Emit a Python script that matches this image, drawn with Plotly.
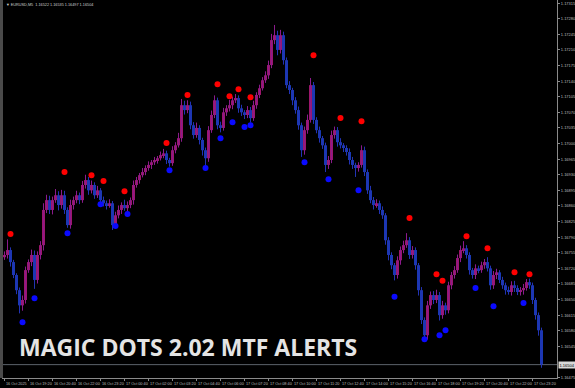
import plotly.graph_objects as go

# ---- data (10-minute bars, EURUSD) ----
first_open = 1.16745
closes = [
    1.16750, 1.16761, 1.16734, 1.16705, 1.16671, 1.16637, 1.16649, 1.16716, 1.16734, 1.16750,
    1.16694, 1.16750, 1.16772, 1.16851, 1.16873, 1.16851, 1.16873, 1.16884, 1.16862, 1.16884,
    1.16851, 1.16817, 1.16862, 1.16873, 1.16884, 1.16873, 1.16907, 1.16918, 1.16895, 1.16907,
    1.16884, 1.16895, 1.16873, 1.16866, 1.16862, 1.16866, 1.16817, 1.16839, 1.16851, 1.16862,
    1.16855, 1.16862, 1.16873, 1.16907, 1.16918, 1.16929, 1.16936, 1.16945, 1.16952, 1.16958,
    1.16963, 1.16967, 1.16974, 1.16978, 1.16963, 1.16956, 1.16985, 1.16996, 1.17012, 1.17086,
    1.17075, 1.17086, 1.17041, 1.17019, 1.17035, 1.17008, 1.16985, 1.16967, 1.17030, 1.17064,
    1.17097, 1.17041, 1.17035, 1.17070, 1.17079, 1.17086, 1.17097, 1.17102, 1.17079, 1.17070,
    1.17064, 1.17075, 1.17057, 1.17086, 1.17109, 1.17124, 1.17142, 1.17153, 1.17176, 1.17232,
    1.17243, 1.17210, 1.17243, 1.17187, 1.17131, 1.17120, 1.17097, 1.17075, 1.17041, 1.16985,
    1.17030, 1.17053, 1.17131, 1.17053, 1.17030, 1.17012, 1.16996, 1.16952, 1.16963, 1.17019,
    1.17030, 1.17003, 1.16996, 1.16990, 1.16981, 1.16963, 1.16952, 1.16945, 1.16952, 1.16985,
    1.16936, 1.16895, 1.16873, 1.16862, 1.16866, 1.16851, 1.16839, 1.16783, 1.16750, 1.16727,
    1.16705, 1.16738, 1.16761, 1.16772, 1.16783, 1.16750, 1.16761, 1.16727, 1.16671, 1.16604,
    1.16570, 1.16637, 1.16660, 1.16649, 1.16660, 1.16615, 1.16637, 1.16626, 1.16682, 1.16705,
    1.16716, 1.16743, 1.16761, 1.16765, 1.16750, 1.16716, 1.16705, 1.16720, 1.16716, 1.16727,
    1.16734, 1.16720, 1.16682, 1.16705, 1.16711, 1.16694, 1.16682, 1.16671, 1.16667, 1.16682,
    1.16676, 1.16667, 1.16671, 1.16676, 1.16689, 1.16682, 1.16649, 1.16615, 1.16581, 1.16504,
]
# wick lengths in points (0.00001) above max(open, close) and below min(open, close)
upper_wick_pts = [
    8, 24, 6, 5, 4, 6, 10, 8, 6, 12,
    10, 8, 9, 15, 12, 10, 8, 14, 9, 12,
    10, 6, 12, 8, 10, 6, 9, 12, 7, 10,
    6, 10, 5, 8, 6, 9, 5, 8, 10, 6,
    12, 8, 6, 10, 7, 5, 9, 6, 8, 5,
    7, 5, 8, 10, 6, 5, 9, 7, 12, 14,
    10, 11, 8, 7, 12, 6, 5, 6, 9, 10,
    11, 6, 8, 10, 7, 12, 8, 9, 6, 8,
    5, 9, 7, 10, 6, 8, 7, 9, 10, 14,
    23, 10, 12, 8, 6, 9, 5, 7, 8, 6,
    8, 12, 16, 7, 6, 8, 5, 6, 9, 10,
    8, 7, 9, 5, 6, 8, 7, 5, 6, 11,
    8, 6, 10, 7, 9, 6, 8, 5, 7, 6,
    5, 9, 8, 10, 16, 7, 9, 6, 5, 7,
    6, 10, 8, 9, 12, 7, 10, 6, 8, 7,
    9, 8, 10, 16, 7, 6, 5, 9, 6, 8,
    7, 11, 6, 9, 8, 5, 7, 6, 8, 9,
    10, 6, 7, 9, 7, 8, 6, 5, 6, 6,
]
lower_wick_pts = [
    6, 8, 10, 7, 9, 18, 12, 8, 6, 9,
    20, 8, 10, 12, 7, 9, 10, 6, 12, 8,
    9, 6, 8, 10, 7, 9, 6, 8, 10, 7,
    8, 6, 9, 7, 10, 6, 11, 8, 7, 9,
    6, 8, 7, 10, 6, 8, 5, 7, 6, 9,
    6, 8, 5, 7, 9, 8, 6, 7, 5, 8,
    10, 7, 9, 8, 6, 10, 12, 17, 8, 6,
    7, 9, 10, 6, 8, 7, 9, 6, 10, 8,
    9, 7, 10, 6, 8, 7, 5, 6, 8, 7,
    9, 12, 8, 10, 7, 9, 11, 8, 10, 15,
    10, 8, 6, 9, 7, 10, 8, 16, 9, 7,
    8, 10, 7, 9, 8, 10, 9, 20, 8, 6,
    9, 8, 7, 10, 6, 9, 8, 10, 12, 9,
    12, 8, 10, 7, 6, 9, 8, 10, 12, 9,
    7, 10, 8, 9, 7, 12, 8, 10, 7, 9,
    8, 6, 9, 7, 8, 10, 8, 9, 7, 6,
    8, 7, 10, 8, 9, 7, 8, 10, 6, 8,
    9, 7, 8, 10, 6, 8, 9, 10, 12, 7,
]
# Magic Dots signals (bar index, price)
red_dot_bars = [2, 20, 29, 33, 40, 54, 61, 71, 75, 78, 82, 103, 112, 119, 135, 144, 146, 154, 161, 170, 175]
red_dot_prices = [1.16797, 1.16936, 1.16929, 1.16916, 1.16893, 1.17001, 1.17109, 1.17133, 1.17106, 1.17122,
                  1.17104, 1.17198, 1.17057, 1.17050, 1.16833, 1.16707, 1.16692, 1.16792, 1.16765, 1.16711, 1.16707]
blue_dot_bars = [6, 10, 21, 32, 37, 41, 55, 67, 72, 76, 80, 82, 100, 108, 118, 130, 140, 145, 147, 157, 163, 173]
blue_dot_prices = [1.16599, 1.16653, 1.16799, 1.16864, 1.16815, 1.16842, 1.16940, 1.16945, 1.17012, 1.17048,
                   1.17037, 1.17041, 1.16958, 1.16920, 1.16895, 1.16656, 1.16561, 1.16570, 1.16581, 1.16676,
                   1.16635, 1.16642]
last_price = 1.16504
header_text = "EURUSD,M5  1.16522 1.16535 1.16497 1.16504"
title_text = "MAGIC DOTS 2.02 MTF ALERTS"
price_ticks = [1.16475, 1.16545, 1.16580, 1.16615, 1.16650, 1.16685, 1.16720, 1.16755, 1.16790,
               1.16825, 1.16860, 1.16895, 1.16930, 1.16965, 1.17000, 1.17035, 1.17070, 1.17105,
               1.17140, 1.17175, 1.17210, 1.17245, 1.17280, 1.17315]
time_tick_bars = list(range(0, 177, 8))
time_tick_labels = ["16 Oct 2025", "16 Oct 19:20", "16 Oct 20:40", "16 Oct 22:00", "16 Oct 23:20",
                    "17 Oct 00:40", "17 Oct 02:00", "17 Oct 03:20", "17 Oct 04:40", "17 Oct 06:00",
                    "17 Oct 07:20", "17 Oct 08:40", "17 Oct 10:00", "17 Oct 11:20", "17 Oct 12:40",
                    "17 Oct 14:00", "17 Oct 15:20", "17 Oct 16:40", "17 Oct 18:00", "17 Oct 19:20",
                    "17 Oct 20:40", "17 Oct 22:00", "17 Oct 23:20"]

# ---- build candles ----
n = len(closes)
opens = [first_open] + closes[:-1]
highs = [max(o, c) + u * 1e-5 for o, c, u in zip(opens, closes, upper_wick_pts)]
lows = [min(o, c) - l * 1e-5 for o, c, l in zip(opens, closes, lower_wick_pts)]
idx = list(range(n))

BULL = "#e0209c"
BEAR = "#2552ff"
BULL_WICK = "#8c1a8c"
BEAR_WICK = "#2233b4"

fig = go.Figure()
for is_bull, wcol in ((True, BULL_WICK), (False, BEAR_WICK)):
    wx, wy = [], []
    for i in idx:
        if (closes[i] >= opens[i]) == is_bull:
            wx += [i, i, None]
            wy += [lows[i], highs[i], None]
    fig.add_trace(go.Scatter(x=wx, y=wy, mode="lines", line=dict(color=wcol, width=1),
                             hoverinfo="skip", showlegend=False))
for is_bull, col in ((True, BULL), (False, BEAR)):
    bx = [i for i in idx if (closes[i] >= opens[i]) == is_bull]
    fig.add_trace(go.Bar(
        x=bx,
        base=[min(opens[i], closes[i]) for i in bx],
        y=[abs(closes[i] - opens[i]) for i in bx],
        width=0.8, marker=dict(color=col, line=dict(width=0)),
        hoverinfo="skip", showlegend=False))

fig.add_trace(go.Scatter(x=red_dot_bars, y=red_dot_prices, mode="markers",
                         marker=dict(color="#ff0000", size=6, line=dict(width=0)),
                         hoverinfo="skip", showlegend=False))
fig.add_trace(go.Scatter(x=blue_dot_bars, y=blue_dot_prices, mode="markers",
                         marker=dict(color="#0a0aff", size=6, line=dict(width=0)),
                         hoverinfo="skip", showlegend=False))

AX = "#8a8a8a"
TXT = "#bdbdbd"

annotations = [
    dict(text="<b>" + title_text + "</b>", xref="paper", yref="paper",
         x=14 / 554, y=(378 - 347) / 378, xanchor="left", yanchor="middle",
         showarrow=False, font=dict(family="Open Sans", size=23, color="#e4e4e4")),
    dict(text="▼ " + header_text, xref="paper", yref="paper",
         x=1 / 554, y=(378 - 5) / 378, xanchor="left", yanchor="middle",
         showarrow=False, font=dict(family="Liberation Sans", size=3.8, color="#d0d0d0")),
    dict(text=f"{last_price:.5f}", xref="paper", yref="y", x=1, y=last_price,
         xanchor="left", yanchor="middle", xshift=1, showarrow=False,
         bgcolor="#d8d8d8", borderpad=0.5,
         font=dict(family="Liberation Sans", size=4, color="#000000")),
]
for tb, tl in zip(time_tick_bars, time_tick_labels):
    annotations.append(dict(text=tl, xref="x", yref="paper", x=tb, y=0,
                            xanchor="left", yanchor="middle", yshift=-6, xshift=-1,
                            showarrow=False,
                            font=dict(family="Liberation Sans", size=3.8, color=TXT)))

fig.update_layout(
    width=575, height=388,
    margin=dict(l=3, r=18, t=0, b=10, autoexpand=False),
    paper_bgcolor="#000000", plot_bgcolor="#000000",
    barmode="overlay", hovermode=False,
    font=dict(family="Liberation Sans", color=TXT, size=4),
    xaxis=dict(range=[-0.5, 184.167], showgrid=False, zeroline=False,
               showline=True, linecolor=AX, linewidth=1, mirror=True,
               tickvals=time_tick_bars, showticklabels=False,
               ticks="outside", ticklen=2, tickcolor=AX),
    yaxis=dict(range=[1.16474, 1.17322], side="right", showgrid=False, zeroline=False,
               showline=True, linecolor=AX, linewidth=1, mirror=True,
               tickvals=price_ticks, tickformat=".5f",
               ticks="outside", ticklen=2, tickcolor=AX,
               tickfont=dict(family="Liberation Sans", size=4, color=TXT)),
    shapes=[
        dict(type="line", xref="paper", yref="y", x0=0, x1=1, y0=last_price, y1=last_price,
             line=dict(color="#5c636b", width=1), layer="below"),
        dict(type="rect", xref="paper", yref="paper", x0=-3 / 554, x1=0, y0=0, y1=1,
             fillcolor="#4a4a4a", line=dict(width=0)),
    ],
    annotations=annotations,
)

fig.write_html("out.html")
